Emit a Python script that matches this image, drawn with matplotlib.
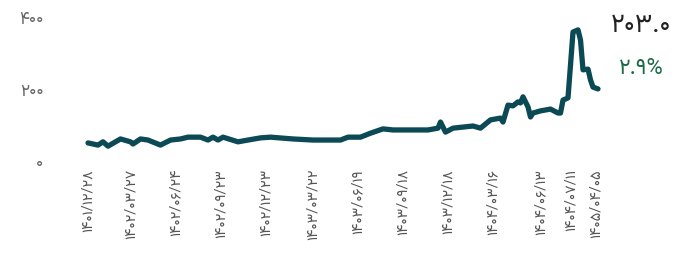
import matplotlib
matplotlib.use("Agg")
import matplotlib.pyplot as plt

plt.rcParams['font.family'] = ['Vazirmatn', 'DejaVu Sans']

# trading-day index and price
day = [0, 4, 6, 8, 13, 17, 18, 21, 24, 29, 33, 37, 40, 45, 48, 50, 52, 54,
       60, 64, 69, 73, 82, 90, 101, 104, 109, 113, 118, 122, 136, 140, 141,
       143, 146, 154, 157, 161, 165, 166, 168, 170, 172, 173, 174, 176, 177,
       178, 181, 185, 188, 189, 190, 192, 194, 196, 197, 198, 200, 201, 202, 204]
price = [53, 47, 56, 44, 64, 56, 50, 64, 61, 47, 61, 64, 69, 69, 61, 69, 61, 69,
         56, 61, 67, 69, 64, 61, 61, 69, 69, 80, 92, 89, 89, 94, 111,
         83, 94, 100, 94, 117, 122, 111, 158, 156, 167, 164, 181, 153, 125,
         136, 142, 147, 136, 136, 172, 178, 361, 367, 339, 256, 258, 228, 208, 203]

tick_days = [0, 17, 35, 53, 71, 90, 108, 126, 144, 162, 181, 193, 203]
tick_labels = ['۱۴۰۱/۱۲/۲۸', '۱۴۰۲/۰۳/۲۷', '۱۴۰۲/۰۶/۲۴', '۱۴۰۲/۰۹/۲۳',
               '۱۴۰۲/۱۲/۲۳', '۱۴۰۳/۰۳/۲۲', '۱۴۰۳/۰۶/۱۹', '۱۴۰۳/۰۹/۱۸',
               '۱۴۰۳/۱۲/۱۸', '۱۴۰۴/۰۳/۱۶', '۱۴۰۴/۰۶/۱۳', '۱۴۰۴/۰۷/۱۱',
               '۱۴۰۵/۰۴/۰۵']
y_ticks = [0, 200, 400]
y_labels = ['۰', '۲۰۰', '۴۰۰']

last_value = '۲۰۳.۰'
change = '۲.۹%'

W, H = 676, 261
fig = plt.figure(figsize=(W / 100, H / 100), dpi=100)
# axes placed in pixel terms
left_px, right_px, top_px, bottom_px = 60, 605, 18, 162
ax = fig.add_axes([left_px / W, 1 - bottom_px / H,
                   (right_px - left_px) / W, (bottom_px - top_px) / H])

ax.plot(day, price, color='#0b4a55', linewidth=3.8,
        solid_capstyle='round', solid_joinstyle='round')

ax.set_xlim((left_px - 88) / 2.5, (right_px - 88) / 2.5)
ax.set_ylim(0, 400)
ax.set_yticks(y_ticks)
ax.set_yticklabels(y_labels, fontsize=12.5, color='#666666')
ax.set_xticks(tick_days)
ax.set_xticklabels(tick_labels, rotation=90, fontsize=10.5, color='#555555',
                   va='top', ha='center')
ax.tick_params(length=0, pad=5)
ax.tick_params(axis='y', pad=12)
for s in ax.spines.values():
    s.set_visible(False)

fig.text(641 / W, 1 - 25 / H, last_value, fontsize=19, color='#222222',
         ha='center', va='center')
fig.text(641 / W, 1 - 68 / H, change, fontsize=16, color='#1b6b45',
         ha='center', va='center')

fig.savefig('out.png', dpi=100)
